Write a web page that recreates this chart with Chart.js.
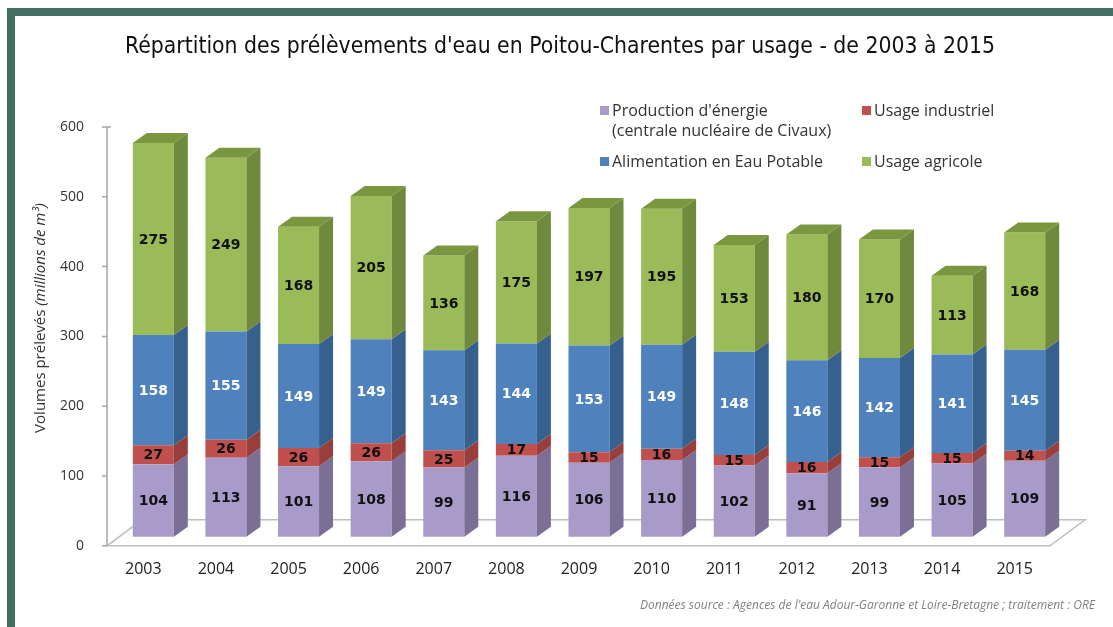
<!DOCTYPE html>
<html lang="fr">
<head>
<meta charset="utf-8">
<script src="https://cdn.jsdelivr.net/npm/chart.js@4/dist/chart.umd.min.js"></script>
<style>
  body { margin: 0; background: #fff; }
  #frame {
    position: absolute; left: 7px; top: 8px; width: 1106px; height: 619px;
    border-top: 8px solid #436f63; border-left: 8px solid #436f63; box-sizing: border-box;
  }
  #wrap { position: absolute; left: 0; top: 0; width: 1113px; height: 627px; }
  .leg { position: absolute; font: 16px "Open Sans", sans-serif; color: #333; line-height: 20px; white-space: nowrap; }
  .leg i { display: inline-block; width: 9px; height: 9px; margin-right: 3px; vertical-align: 1px; }
</style>
</head>
<body>
<div id="frame"></div>
<div id="wrap"><canvas id="chart"></canvas></div>
<div class="leg" style="left:600px; top:100px;"><i style="background:#a99bc9"></i>Production d'énergie<br><span style="padding-left:12px">(centrale nucléaire de Civaux)</span></div>
<div class="leg" style="left:862px; top:100px;"><i style="background:#c0504d"></i>Usage industriel</div>
<div class="leg" style="left:600px; top:151px;"><i style="background:#4f81bd"></i>Alimentation en Eau Potable</div>
<div class="leg" style="left:862px; top:151px;"><i style="background:#9bbb59"></i>Usage agricole</div>
<script>
const years = ['2003', '2004', '2005', '2006', '2007', '2008', '2009', '2010', '2011', '2012', '2013', '2014', '2015'];
const energie = [104, 113, 101, 108, 99, 116, 106, 110, 102, 91, 99, 105, 109];
const industriel = [27, 26, 26, 26, 25, 17, 15, 16, 15, 16, 15, 15, 14];
const eauPotable = [158, 155, 149, 149, 143, 144, 153, 149, 148, 146, 142, 141, 145];
const agricole = [275, 249, 168, 205, 136, 175, 197, 195, 153, 180, 170, 113, 168];
const yTicks = [0, 100, 200, 300, 400, 500, 600];

const FRONT = ['#a99bc9', '#c0504d', '#4f81bd', '#9bbb59'];
const SIDE = ['#7b6f95', '#983e3b', '#36618f', '#6f8a3c'];
const TOP_GREEN = '#7a973f';
const LABEL_COLORS = ['#111', '#111', '#fff', '#111'];
const DX = 14, DY = -10;

function ds(label, values, i) {
    return {
        label: label,
        data: values,
        backgroundColor: FRONT[i],
        borderWidth: 0,
        yAxisID: 'yb',
        barPercentage: 0.565,
        categoryPercentage: 1
    };
}

const decor = {
    id: 'decor',
    beforeDatasetsDraw(chart) {
        const ctx = chart.ctx, a = chart.chartArea;
        const ax = a.left - 10;
        ctx.save();
        // floor
        ctx.strokeStyle = '#bdbdbd';
        ctx.lineWidth = 1.5;
        ctx.beginPath();
        ctx.moveTo(ax, a.bottom);
        ctx.lineTo(a.right - 11, a.bottom);
        ctx.lineTo(a.right + 24, a.bottom - 26);
        ctx.lineTo(ax + 35, a.bottom - 26);
        ctx.closePath();
        ctx.stroke();
        // y axis line + ticks
        ctx.strokeStyle = '#a6a6a6';
        ctx.beginPath();
        ctx.moveTo(ax, a.top);
        ctx.lineTo(ax, a.bottom);
        const ys = chart.scales.y;
        yTicks.forEach(v => {
            const p = ys.getPixelForValue(v);
            ctx.moveTo(ax - 5, p);
            ctx.lineTo(ax, p);
        });
        ctx.moveTo(ax, a.top);
        ctx.lineTo(ax + 4, a.top);
        ctx.stroke();
        ctx.restore();
    },
    afterDatasetsDraw(chart) {
        const ctx = chart.ctx;
        const n = chart.data.datasets.length;
        ctx.save();
        chart.data.datasets.forEach((d, i) => {
            const meta = chart.getDatasetMeta(i);
            meta.data.forEach(bar => {
                const p = bar.getProps(['x', 'y', 'base', 'width'], true);
                const l = p.x - p.width / 2, r = p.x + p.width / 2;
                ctx.fillStyle = SIDE[i];
                ctx.beginPath();
                ctx.moveTo(r, p.y);
                ctx.lineTo(r + DX, p.y + DY);
                ctx.lineTo(r + DX, p.base + DY);
                ctx.lineTo(r, p.base);
                ctx.closePath();
                ctx.fill();
                if (i === n - 1) {
                    ctx.fillStyle = TOP_GREEN;
                    ctx.beginPath();
                    ctx.moveTo(l, p.y);
                    ctx.lineTo(l + DX, p.y + DY);
                    ctx.lineTo(r + DX, p.y + DY);
                    ctx.lineTo(r, p.y);
                    ctx.closePath();
                    ctx.fill();
                }
            });
        });
        // value labels
        ctx.font = 'bold 14px "DejaVu Sans"';
        ctx.textAlign = 'center';
        ctx.textBaseline = 'middle';
        chart.data.datasets.forEach((d, i) => {
            const meta = chart.getDatasetMeta(i);
            ctx.fillStyle = LABEL_COLORS[i];
            meta.data.forEach((bar, j) => {
                const p = bar.getProps(['x', 'y', 'base'], true);
                ctx.fillText(String(d.data[j]), p.x, (p.y + p.base) / 2 + 1);
            });
        });
        ctx.restore();
    },
    afterDraw(chart) {
        const ctx = chart.ctx;
        ctx.save();
        // title, fitted to the reference width
        const title = "Répartition des prélèvements d'eau en Poitou-Charentes par usage - de 2003 à 2015";
        ctx.font = '23px "Liberation Sans Narrow", "DejaVu Sans Condensed", sans-serif';
        ctx.fillStyle = '#111';
        ctx.textBaseline = 'middle';
        ctx.textAlign = 'center';
        const w = ctx.measureText(title).width;
        ctx.translate(560, 47);
        ctx.scale(870 / w, 1);
        ctx.fillText(title, 0, 0);
        ctx.restore();

        // y axis title: normal + italic part
        ctx.save();
        ctx.translate(41, 318);
        ctx.rotate(-Math.PI / 2);
        ctx.fillStyle = '#333';
        ctx.textBaseline = 'middle';
        const t1 = 'Volumes prélevés ', t2 = '(millions de m³)';
        ctx.font = '15px "Open Sans", sans-serif';
        const w1 = ctx.measureText(t1).width;
        ctx.font = 'italic 15px "Open Sans", sans-serif';
        const w2 = ctx.measureText(t2).width;
        let x0 = -(w1 + w2) / 2;
        ctx.textAlign = 'left';
        ctx.font = '15px "Open Sans", sans-serif';
        ctx.fillText(t1, x0, 0);
        ctx.font = 'italic 15px "Open Sans", sans-serif';
        ctx.fillText(t2, x0 + w1, 0);
        ctx.restore();

        // source note
        ctx.save();
        ctx.font = 'italic 12px "Open Sans", sans-serif';
        ctx.fillStyle = '#808080';
        ctx.textAlign = 'right';
        ctx.textBaseline = 'middle';
        ctx.fillText("Données source : Agences de l'eau Adour-Garonne et Loire-Bretagne ; traitement : ORE", 1095, 606);
        ctx.restore();
    }
};

new Chart(document.getElementById('chart'), {
    type: 'bar',
    data: {
        labels: years,
        datasets: [
            ds("Production d'énergie (centrale nucléaire de Civaux)", energie, 0),
            ds('Usage industriel', industriel, 1),
            ds('Alimentation en Eau Potable', eauPotable, 2),
            ds('Usage agricole', agricole, 3)
        ]
    },
    options: {
        responsive: true,
        maintainAspectRatio: false,
        animation: false,
        layout: { padding: { left: 20, right: 52, top: 127, bottom: 42 } },
        plugins: {
            legend: { display: false },
            title: { display: false },
            tooltip: { enabled: false }
        },
        scales: {
            x: {
                stacked: true,
                grid: { display: false },
                border: { display: false },
                ticks: {
                    color: '#222',
                    padding: 6,
                    labelOffset: -10,
                    font: { size: 16, family: 'Open Sans' }
                }
            },
            y: {
                min: 0,
                max: 600,
                grid: { display: false },
                border: { display: false },
                afterFit(s) { s.width = 97; },
                ticks: {
                    stepSize: 100,
                    padding: 25,
                    color: '#333',
                    font: { size: 14, family: 'Open Sans' }
                }
            },
            yb: {
                display: false,
                stacked: true,
                min: -13,
                max: 587
            }
        }
    },
    plugins: [decor]
});
</script>
</body>
</html>
